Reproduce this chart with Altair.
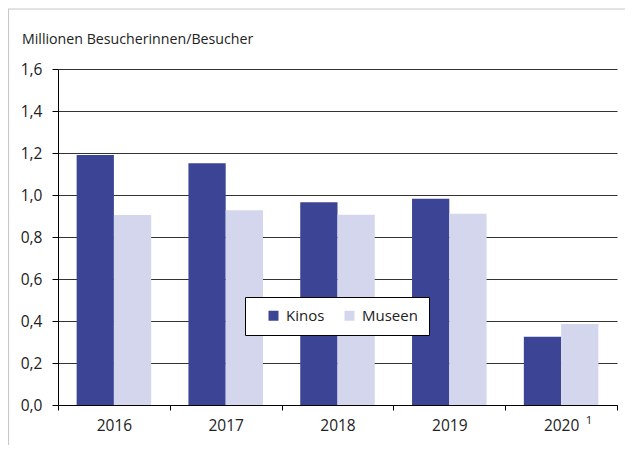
import altair as alt
import pandas as pd

years = ["2016", "2017", "2018", "2019", "2020"]
kinos = [1.19, 1.151, 0.965, 0.982, 0.325]
museen = [0.905, 0.927, 0.906, 0.911, 0.386]
series = ["Kinos", "Museen"]
colors = ["#3c4595", "#d4d6ee"]
title_text = "Millionen Besucherinnen/Besucher"
footnote_year = ["2020"]
footnote_mark = ["1"]

rows = []
for i, y in enumerate(years):
    rows.append({"Jahr": y, "Art": "Kinos", "Wert": kinos[i]})
    rows.append({"Jahr": y, "Art": "Museen", "Wert": museen[i]})
df = pd.DataFrame(rows)

W, H = 559, 336
FONT = "Open Sans"

frame = alt.Chart(pd.DataFrame({"a": [0]})).mark_rect(
    fill=None, stroke="#c8c8c8", strokeWidth=1.2
).encode(
    x=alt.value(-49.5), x2=alt.value(W + 30), y=alt.value(-60), y2=alt.value(H + 60)
)

bars = alt.Chart(df).mark_bar().encode(
    x=alt.X("Jahr:N", sort=years, scale=alt.Scale(paddingInner=0, paddingOuter=0),
            axis=alt.Axis(title=None, labelAngle=0, tickBand="extent", domainColor="#000",
                          tickColor="#000", tickSize=5, labelFontSize=15.5, labelPadding=8,
                          labelFont=FONT, labelColor="#222", grid=False)),
    xOffset=alt.XOffset("Art:N", sort=series, scale=alt.Scale(paddingInner=0, paddingOuter=0.5)),
    y=alt.Y("Wert:Q", scale=alt.Scale(domain=[0, 1.6], nice=False),
            axis=alt.Axis(title=None, values=[0, 0.2, 0.4, 0.6, 0.8, 1.0, 1.2, 1.4, 1.6],
                          labelExpr="replace(format(datum.value, '.1f'), '.', ',')",
                          grid=True, gridColor="#333", gridWidth=1, domainColor="#000",
                          tickColor="#000", tickSize=6, labelPadding=10, labelFontSize=15.5,
                          labelFont=FONT, labelColor="#222")),
    color=alt.Color("Art:N", sort=series, scale=alt.Scale(domain=series, range=colors),
                    legend=alt.Legend(title=None, orient="none", legendX=187, legendY=228,
                                      direction="horizontal", strokeColor="#000", fillColor="#fff",
                                      padding=11, symbolType="square", symbolSize=100,
                                      symbolStrokeWidth=0, symbolOffset=10, labelOffset=5,
                                      columnPadding=7, labelFontSize=15, labelFont=FONT,
                                      labelColor="#222")),
)

sup = alt.Chart(pd.DataFrame({"Jahr": footnote_year, "t": footnote_mark})).mark_text(
    font=FONT, fontSize=11.5, color="#222", dx=28, baseline="alphabetic"
).encode(x=alt.X("Jahr:N", sort=years), y=alt.value(H + 19), text="t:N")

title = alt.Chart(pd.DataFrame({"t": [title_text]})).mark_text(
    font=FONT, fontSize=14.2, color="#222", align="left", baseline="alphabetic"
).encode(x=alt.value(-36), y=alt.value(-25), text="t:N")

chart = alt.layer(frame, bars, sup, title).properties(
    width=W, height=H,
    padding={"left": 50, "top": 61, "right": 8, "bottom": 40},
    autosize=alt.AutoSizeParams(type="none"),
).configure_view(stroke=None)

chart.save("out.html", embed_options={"renderer": "svg", "actions": False})
